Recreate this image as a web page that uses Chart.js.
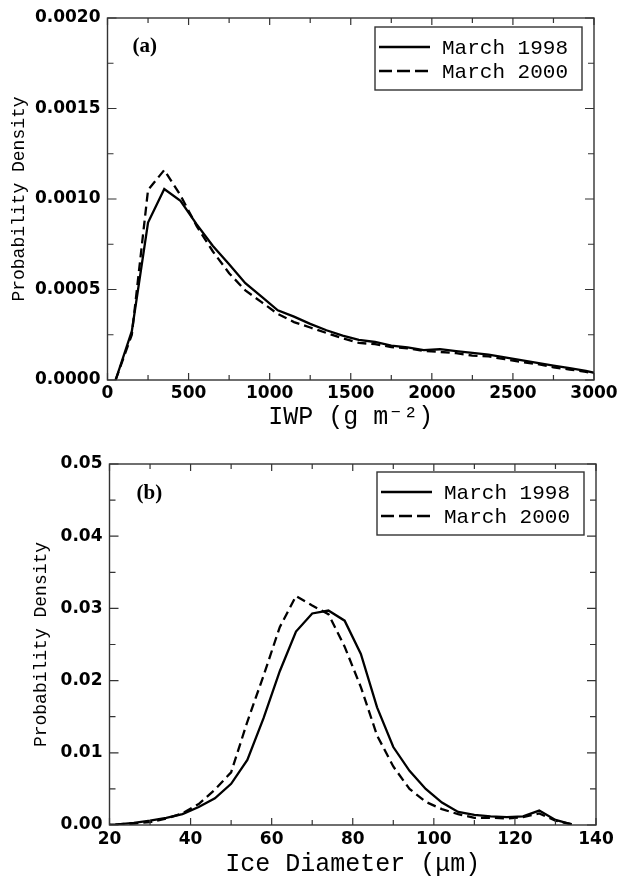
<!DOCTYPE html>
<html>
<head>
<meta charset="utf-8">
<script src="https://cdn.jsdelivr.net/npm/chart.js@4.4.1/dist/chart.umd.min.js"></script>
<style>
html, body { margin: 0; padding: 0; background: #fff; }
.wrap { position: absolute; left: 0; width: 625px; }
canvas { display: block; }
</style>
</head>
<body>
<div class="wrap" style="top:0;height:435px"><canvas id="ca" width="625" height="435"></canvas></div>
<div class="wrap" style="top:435px;height:442px"><canvas id="cb" width="625" height="442"></canvas></div>
<script>
// ---------- data ----------
const seriesNames = ['March 1998', 'March 2000'];

// Panel (a): ice water path
const iwpBins = [50,150,250,350,450,550,650,750,850,950,1050,1150,1250,1350,1450,1550,1650,1750,1850,1950,2050,2150,2250,2350,2450,2550,2650,2750,2850,2950,3050];
const iwp1998 = [0,0.00027,0.00087,0.001055,0.00099,0.00086,0.00074,0.00064,0.000535,0.00046,0.000385,0.00035,0.00031,0.000275,0.000245,0.000222,0.00021,0.00019,0.00018,0.000165,0.00017,0.00016,0.00015,0.00014,0.000125,0.00011,0.000095,0.00008,0.000065,0.00005,0.00003];
const iwp2000 = [0,0.00025,0.00105,0.00116,0.00102,0.00085,0.00071,0.00059,0.000495,0.00043,0.000365,0.00032,0.00029,0.00026,0.00023,0.000205,0.000198,0.000182,0.000175,0.00016,0.000155,0.000148,0.000135,0.00013,0.000115,0.0001,0.000088,0.00007,0.000058,0.000045,0.00003];
const iwpTicks = [0,500,1000,1500,2000,2500,3000];
const iwpTickLabels = ['0','500','1000','1500','2000','2500','3000'];
const pdfTicksA = [0,0.0005,0.0010,0.0015,0.0020];
const pdfTickLabelsA = ['0.0000','0.0005','0.0010','0.0015','0.0020'];

// Panel (b): ice diameter
const diaBins = [18,22,26,30,34,38,42,46,50,54,58,62,66,70,74,78,82,86,90,94,98,102,106,110,114,118,122,126,130,134];
const dia1998 = [0,0.0001,0.0003,0.0006,0.001,0.0015,0.0025,0.0037,0.0057,0.0090,0.0148,0.0213,0.0268,0.0293,0.0297,0.0283,0.0237,0.0163,0.0108,0.0075,0.0050,0.0031,0.0018,0.0014,0.0012,0.0011,0.0012,0.0020,0.0007,0.0001];
const dia2000 = [0,0.0001,0.0002,0.0004,0.0009,0.0016,0.0029,0.0049,0.0073,0.0143,0.0207,0.0274,0.0317,0.0304,0.0292,0.0247,0.0191,0.0124,0.0081,0.0050,0.0032,0.0022,0.0015,0.0010,0.0010,0.0009,0.0011,0.0016,0.0006,0.0001];
const diaTicks = [20,40,60,80,100,120,140];
const diaTickLabels = ['20','40','60','80','100','120','140'];
const pdfTicksB = [0,0.01,0.02,0.03,0.04,0.05];
const pdfTickLabelsB = ['0.00','0.01','0.02','0.03','0.04','0.05'];

// ---------- plugins ----------
const framePlugin = {
  id: 'frame',
  afterDatasetsDraw(chart) {
    const { ctx, chartArea: a, scales: { x, y } } = chart;
    const xt = x.ticks.map(t => t.value), yt = y.ticks.map(t => t.value);
    const mids = v => v.slice(1).map((t, i) => (t + v[i]) / 2);
    ctx.save();
    ctx.strokeStyle = '#333';
    ctx.lineWidth = 1.4;
    ctx.strokeRect(a.left, a.top, a.right - a.left, a.bottom - a.top);
    ctx.lineWidth = 1.2;
    ctx.beginPath();
    const xTicks = (vals, len) => vals.forEach(v => {
      const p = x.getPixelForValue(v);
      ctx.moveTo(p, a.bottom); ctx.lineTo(p, a.bottom - len);
      ctx.moveTo(p, a.top); ctx.lineTo(p, a.top + len);
    });
    const yTicks = (vals, len) => vals.forEach(v => {
      const p = y.getPixelForValue(v);
      ctx.moveTo(a.left, p); ctx.lineTo(a.left + len, p);
      ctx.moveTo(a.right, p); ctx.lineTo(a.right - len, p);
    });
    xTicks(xt, 7); xTicks(mids(xt), 5);
    yTicks(yt, 9); yTicks(mids(yt), 6);
    ctx.stroke();
    ctx.restore();
  }
};

const decoPlugin = {
  id: 'deco',
  afterDatasetsDraw(chart, args, opts) {
    const { ctx, chartArea: a } = chart;
    ctx.save();
    // panel label
    ctx.fillStyle = '#000';
    ctx.font = 'bold 21px "Liberation Serif"';
    ctx.textBaseline = 'middle';
    ctx.textAlign = 'left';
    ctx.fillText(opts.label, a.left + opts.labelDx, a.top + opts.labelDy);
    // legend box
    const bw = 207, bh = 63;
    const bx = a.right - 12 - bw, by = a.top + opts.legendDy;
    ctx.fillStyle = '#fff';
    ctx.fillRect(bx, by, bw, bh);
    ctx.strokeStyle = '#333';
    ctx.lineWidth = 1.4;
    ctx.strokeRect(bx, by, bw, bh);
    chart.data.datasets.forEach((ds, i) => {
      const ry = by + 20 + i * 24;
      ctx.strokeStyle = '#000';
      ctx.lineWidth = 2.6;
      ctx.setLineDash(ds.borderDash && ds.borderDash.length ? [13, 5] : []);
      ctx.beginPath();
      ctx.moveTo(bx + 4, ry); ctx.lineTo(bx + 55, ry);
      ctx.stroke();
      ctx.setLineDash([]);
      ctx.fillStyle = '#000';
      ctx.font = '21px "Liberation Mono"';
      ctx.fillText(ds.label, bx + 67, ry + 1);
    });
    ctx.restore();
  }
};

Chart.defaults.font.family = '"DejaVu Sans", sans-serif';
Chart.defaults.color = '#000';

function makeChart(id, cfg) {
  const mk = (xs, ys) => xs.map((x, i) => ({ x, y: ys[i] }));
  return new Chart(document.getElementById(id), {
    type: 'line',
    data: {
      datasets: [
        { label: seriesNames[0], data: mk(cfg.xs, cfg.s1), borderColor: '#000', borderWidth: 2.3, pointRadius: 0, tension: 0, fill: false },
        { label: seriesNames[1], data: mk(cfg.xs, cfg.s2), borderColor: '#000', borderWidth: 2.3, borderDash: [9, 5], pointRadius: 0, tension: 0, fill: false }
      ]
    },
    plugins: [framePlugin, decoPlugin],
    options: {
      responsive: false,
      animation: false,
      events: [],
      layout: { padding: { top: cfg.padTop, right: cfg.padRight, bottom: 0, left: 0 } },
      plugins: {
        legend: { display: false },
        tooltip: { enabled: false },
        deco: cfg.deco
      },
      scales: {
        x: {
          type: 'linear',
          min: cfg.xTicks[0], max: cfg.xTicks[cfg.xTicks.length - 1],
          grid: { display: false, drawTicks: false },
          border: { display: false },
          afterBuildTicks: s => { s.ticks = cfg.xTicks.map(v => ({ value: v })); },
          ticks: { font: { size: 17, weight: 'bold' }, padding: cfg.xPad, maxRotation: 0, autoSkip: false,
                   callback: (v, i) => cfg.xLabels[i] },
          title: { display: true, text: cfg.xTitle, font: { family: '"Liberation Mono", monospace', size: 25, lineHeight: 1 },
                   padding: { top: 0, bottom: cfg.xTitlePad } },
          afterFit: s => { s.height = cfg.xHeight; s.paddingLeft = 0; s.paddingRight = 0; }
        },
        y: {
          type: 'linear',
          min: cfg.yTicks[0], max: cfg.yTicks[cfg.yTicks.length - 1],
          grid: { display: false, drawTicks: false },
          border: { display: false },
          afterBuildTicks: s => { s.ticks = cfg.yTicks.map(v => ({ value: v })); },
          ticks: { font: { size: 17, weight: 'bold' }, padding: 7, autoSkip: false,
                   callback: (v, i) => cfg.yLabels[i] },
          title: { display: true, text: 'Probability Density', font: { family: '"Liberation Mono", monospace', size: 18, lineHeight: 1 },
                   padding: { top: cfg.yTitlePad, bottom: 0 } },
          afterFit: s => { s.width = cfg.yWidth; s.paddingTop = 0; s.paddingBottom = 0; }
        }
      }
    }
  });
}

makeChart('ca', {
  xs: iwpBins, s1: iwp1998, s2: iwp2000,
  xTicks: iwpTicks, xLabels: iwpTickLabels, yTicks: pdfTicksA, yLabels: pdfTickLabelsA,
  xTitle: 'IWP (g m\u207B\u00B2)',
  padTop: 18, padRight: 31, xHeight: 55, yWidth: 107.5,
  xPad: 3, xTitlePad: 5, yTitlePad: 10,
  deco: { label: '(a)', labelDx: 25, labelDy: 29, legendDy: 9 }
});

makeChart('cb', {
  xs: diaBins, s1: dia1998, s2: dia2000,
  xTicks: diaTicks, xLabels: diaTickLabels, yTicks: pdfTicksB, yLabels: pdfTickLabelsB,
  xTitle: 'Ice Diameter (\u03BCm)',
  padTop: 29, padRight: 29, xHeight: 52, yWidth: 109.5,
  xPad: 4, xTitlePad: 0, yTitlePad: 32,
  deco: { label: '(b)', labelDx: 27, labelDy: 30, legendDy: 8 }
});
</script>
</body>
</html>
